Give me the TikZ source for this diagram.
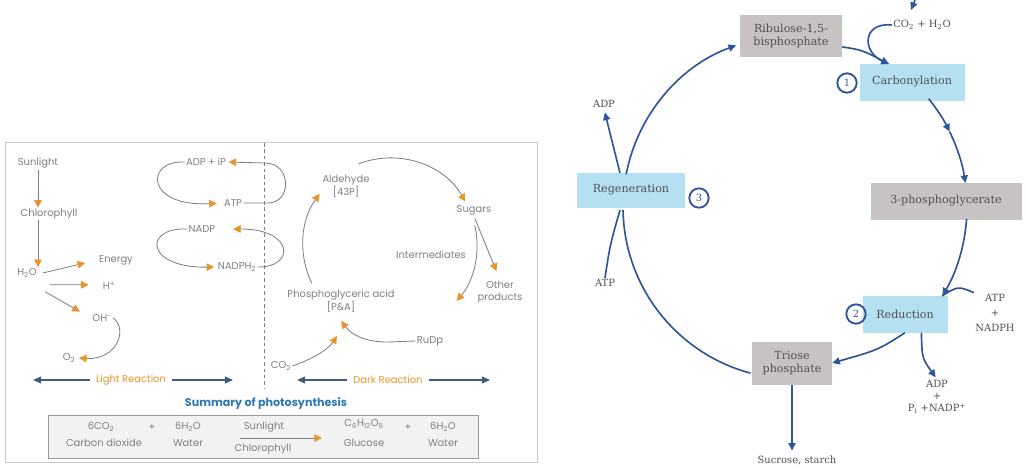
\documentclass[tikz,border=0pt]{standalone}
\usepackage{fontspec}
\setmainfont{DejaVu Serif}
\newfontfamily\gothic{Poppins}
\usetikzlibrary{arrows.meta}
\definecolor{orng}{HTML}{E8962C}
\definecolor{greyline}{HTML}{7A7F86}
\definecolor{navyarr}{HTML}{3F5C7C}
\definecolor{sumblue}{HTML}{2F78B4}
\definecolor{cycblue}{HTML}{2C5699}
\definecolor{boxblue}{HTML}{B5E0F2}
\definecolor{boxgrey}{HTML}{C8C3C3}
\definecolor{txtgrey}{HTML}{808080}
\definecolor{darktxt}{HTML}{505050}

\begin{document}
\begin{tikzpicture}[x=0.03cm,y=-0.03cm,
  lbl/.style={font=\gothic\fontsize{8.5}{10}\selectfont,text=txtgrey,inner sep=1pt},
  garr/.style={draw=greyline,line width=0.7pt,-{Triangle[length=6.5pt,width=6.5pt,color=orng]}},
  reacarr/.style={draw=navyarr,line width=1pt,-{Triangle[length=7pt,width=6pt]}},
  cyc/.style={font=\fontsize{8.5}{10}\selectfont,text=darktxt,align=center,inner sep=1pt},
  bluebox/.style={cyc,fill=boxblue,font=\fontsize{9.5}{11}\selectfont},
  greybox/.style={cyc,fill=boxgrey,font=\fontsize{9.5}{11}\selectfont},
  barr/.style={draw=cycblue,line width=1.4pt,-{Triangle[length=6.5pt,width=6pt]}},
  bline/.style={draw=cycblue,line width=1.4pt},
  numc/.style={circle,draw=cycblue,line width=1.6pt,text=cycblue,inner sep=0pt,minimum size=0.58cm,font=\fontsize{8.5}{9}\selectfont}]

\fill[white] (0,0) rectangle (1026,468);
\useasboundingbox (0,0) rectangle (1026,468);

% light and dark reactions
\draw[black!22,line width=0.8pt] (5,142) rectangle (537,462);
\draw[greyline,line width=0.6pt,dash pattern=on 3pt off 2.5pt] (264,143) -- (264,388);

\node[lbl] (sun) at (38,163) {Sunlight};
\node[lbl] (chl) at (49,214) {Chlorophyll};
\node[lbl] (water) at (27,273) {H\textsubscript{2}O};
\node[lbl] (energy) at (116,260) {Energy};
\node[lbl] (hion) at (109,286) {H\textsuperscript{+}};
\node[lbl] (hydrox) at (102,318) {OH\textsuperscript{-}};
\node[lbl] (oxy) at (69,358) {O\textsubscript{2}};
\draw[garr] (sun.south) -- (sun.south |- chl.north);
\draw[garr] (sun.south |- chl.south) -- (sun.south |- water.north);
\draw[garr,shorten >=11pt] ([xshift=4pt]water.east) -- (energy.west);
\draw[garr,shorten >=11pt] ([xshift=10pt,yshift=-10pt]water.east) -- ([yshift=1pt]hion.west);
\draw[garr,shorten >=11pt] ([xshift=6pt,yshift=-16pt]water.east) -- (hydrox.west);
\draw[garr,shorten >=2pt] (hydrox.east) .. controls (128,328) and (118,360) .. (oxy.east);

\node[lbl] (adpip) at (206,162) {ADP + iP};
\node[lbl] (atpa) at (233,203) {ATP};
\node[lbl] (nadp) at (202,229) {NADP};
\node[lbl] (nadph) at (237,267) {NADPH\textsubscript{2}};
\draw[garr,shorten >=5pt] (adpip.west) .. controls (145,160) and (145,207) .. (atpa.west);
\draw[garr,shorten >=1pt] (atpa.east) -- (268,203) .. controls (292,203) and (292,163) .. (265,163) -- (adpip.east);
\draw[garr,shorten >=2pt] (nadp.west) .. controls (143,227) and (145,268) .. (nadph.west);
\draw[garr,shorten >=14pt] (nadph.east) .. controls (295,268) and (295,229) .. (nadp.east);

\node[lbl,text=orng] (light) at (131,380) {Light Reaction};
\coordinate (lightl) at (33,380);
\coordinate (lightr) at (233,380);
\draw[reacarr,shorten <=4pt] (light.west) -- (lightl);
\draw[reacarr,shorten <=4pt] (light.east) -- (lightr);

\coordinate (dcen) at (390,245);
\node[lbl,align=center] (ald) at (346,186) {Aldehyde\\{}[43P]};
\node[lbl] (sug) at (474,210) {Sugars};
\node[lbl] (inter) at (431,255) {Intermediates};
\node[lbl,align=center] (oth) at (500,292) {Other\\products};
\node[lbl,align=center] (pga) at (341,301) {Phosphoglyceric acid\\{}[P\&A]};
\node[lbl] (rudp) at (430,341) {RuDp};
\node[lbl] (co2) at (281,366) {CO\textsubscript{2}};
\draw[garr] (dcen) ++(154:87) arc[start angle=154,end angle=216,radius=87];
\draw[garr] (dcen) ++(249:87) arc[start angle=249,end angle=330,radius=87];
\draw[garr] (dcen) ++(347:87) arc[start angle=347,end angle=400,radius=87];
\draw[garr,shorten <=2pt,shorten >=8pt] (sug.south) -- (oth.north);
\coordinate (pgain) at (341,321);
\coordinate (pgain2) at (337,336);
\draw[garr] (rudp.west) -- (388,342) .. controls (365,342) and (352,335) .. (pgain);
\draw[garr] (co2.east) .. controls (310,360) and (328,350) .. (pgain2);

\node[lbl,text=orng] (dark) at (388,380) {Dark Reaction};
\coordinate (darkl) at (297,380);
\coordinate (darkr) at (490,380);
\draw[reacarr,shorten <=4pt] (dark.west) -- (darkl);
\draw[reacarr,shorten <=4pt] (dark.east) -- (darkr);

\node[font=\gothic\bfseries\fontsize{9.5}{11}\selectfont,text=sumblue] (summ) at (266,404) {Summary of photosynthesis};
\draw[fill=black!5,draw=black!40,line width=0.8pt] (48,415) rectangle (478,458);
\node[lbl] (co2a) at (101,427) {6CO\textsubscript{2}};
\node[lbl] (co2b) at (104,443) {Carbon dioxide};
\node[lbl] (plusa) at (152,427) {+};
\node[lbl] (h2oa) at (188,427) {6H\textsubscript{2}O};
\node[lbl] (h2ob) at (188,443) {Water};
\node[lbl] (sunb) at (264,427) {Sunlight};
\node[lbl] (chlb) at (263,449) {Chlorophyll};
\coordinate (eqs) at (240,438);
\coordinate (eqe) at (322,438);
\draw[garr] (eqs) -- (eqe);
\node[lbl] (gluc) at (364,424) {C\textsubscript{6}H\textsubscript{12}O\textsubscript{6}};
\node[lbl] (glucb) at (364,443) {Glucose};
\node[lbl] (plusb) at (408,427) {+};
\node[lbl] (h2oc) at (443,427) {6H\textsubscript{2}O};
\node[lbl] (h2od) at (443,443) {Water};

% Calvin cycle
\coordinate (ccen) at (795,207);
\node[greybox,minimum width=3.06cm,minimum height=1.26cm] (ribu) at (791,36) {Ribulose-1,5-\\bisphosphate};
\node[bluebox,minimum width=3.15cm,minimum height=1.11cm] (carb) at (912,82) {Carbonylation};
\node[numc] (one) at (847,83) {1};
\node[greybox,minimum width=4.53cm,minimum height=1.11cm] (pga3) at (946,201) {3-phosphoglycerate};
\node[bluebox,minimum width=2.55cm,minimum height=1.11cm] (redu) at (905,314) {Reduction};
\node[numc] (two) at (856,314) {2};
\node[greybox,minimum width=2.4cm,minimum height=1.29cm] (trio) at (792,363) {Triose\\phosphate};
\node[bluebox,minimum width=3.24cm,minimum height=1.05cm] (regen) at (631,190) {Regeneration};
\node[numc] (three) at (699,198) {3};
\node[cyc] (co2h) at (922,25) {CO\textsubscript{2} + H\textsubscript{2}O};
\node[cyc,font=\fontsize{8.5}{13}\selectfont] (atpn) at (995,313) {ATP\\+\\NADPH};
\node[cyc] (adpp) at (937,397) {ADP\\+\\P\textsubscript{i} +NADP\textsuperscript{+}};
\node[cyc] (sucr) at (797,460) {Sucrose, starch};
\node[cyc] (adpb) at (604,104) {ADP};
\node[cyc] (atpb) at (605,283) {ATP};

\draw[barr] (ccen) ++(191:172) arc[start angle=191,end angle=250,radius=172];
\draw[barr] (ccen) ++(321:172) arc[start angle=321,end angle=334,radius=172];
\draw[barr] (ccen) ++(334:172) arc[start angle=334,end angle=352,radius=172];
\draw[barr] (ccen) ++(4:172) arc[start angle=4,end angle=31,radius=172];
\draw[bline] (ccen) ++(105:172) arc[start angle=105,end angle=179,radius=172];
\draw[barr] (redu.south) .. controls (878,350) .. (trio.east);
\draw[barr,shorten >=2pt] ([xshift=14pt]redu.south) .. controls (922,358) .. (adpp.north);
\coordinate (redin) at (942,296);
\draw[bline] (atpn.north west) .. controls (958,286) .. (redin);
\coordinate (carbin) at (889,64);
\draw[barr] (ribu.-12) .. controls (862,50) .. (carbin);
\draw[barr] (co2h.west) .. controls (862,22) and (862,52) .. (carbin);
\coordinate (stubs) at (915,0);
\coordinate (stube) at (911,10);
\draw[barr] (stubs) -- (stube);
\coordinate (regtop) at (620,173);
\coordinate (regbot) at (620,210);
\draw[barr,shorten >=3pt] (regtop) -- (adpb.south);
\draw[bline] (atpb.north) .. controls (610,245) .. (regbot);
\draw[barr,shorten >=3pt] (trio.south) -- (trio.south |- sucr.north);
\end{tikzpicture}
\end{document}
